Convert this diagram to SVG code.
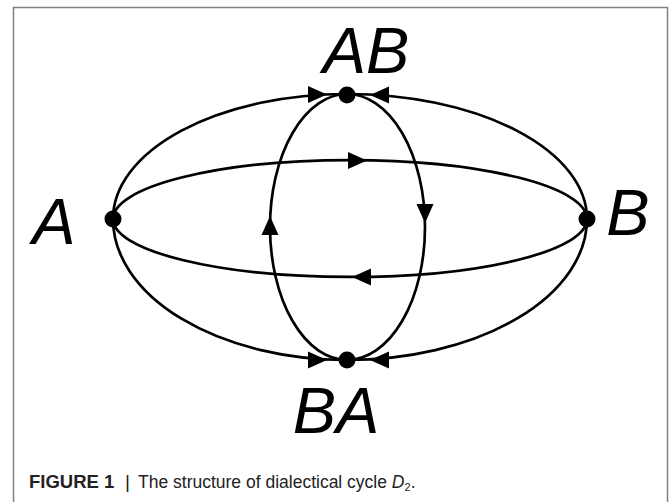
<svg xmlns="http://www.w3.org/2000/svg" xmlns:xlink="http://www.w3.org/1999/xlink" width="670" height="502" viewBox="0 0 670 502">
<style>
.edge{fill:none;stroke:#000;stroke-width:2.7}
.dot{fill:#000}
.lbl{font-family:"Liberation Sans",Arial,sans-serif;font-style:italic;font-size:65px;fill:#000;text-anchor:middle}
.cap{font-family:"Liberation Sans",Arial,sans-serif;font-size:17.5px;fill:#222}
.frame{fill:none;stroke:#808080;stroke-width:1.5}
</style>
<defs>
<polygon id="ah" points="0,0 -19,-8.5 -19,8.5" fill="#000"/>
</defs>
<rect width="670" height="502" fill="#fff"/>
<path class="frame" d="M13.5,503 V7.5 H667.5 V503"/>
<g id="connectors">
<path id="e-A-AB" class="edge" d="M113,219 A234,125 0 0 1 347,94"/>
<path id="e-B-AB" class="edge" d="M587,219 A240,125 0 0 0 347,94"/>
<path id="e-A-BA" class="edge" d="M113,219 A234,141 0 0 0 347,360"/>
<path id="e-B-BA" class="edge" d="M587,219 A240,141 0 0 1 347,360"/>
<path id="e-A-B" class="edge" d="M113,219 A237,59 0 0 1 587,219"/>
<path id="e-B-A" class="edge" d="M587,219 A237,58 0 0 1 113,219"/>
<path id="e-AB-BA" class="edge" d="M347,94 A78,133 0 0 1 347,360"/>
<path id="e-BA-AB" class="edge" d="M347,360 A77,133 0 0 1 347,94"/>
<use xlink:href="#ah" transform="translate(327,94.5)"/>
<use xlink:href="#ah" transform="translate(370,95) rotate(180)"/>
<use xlink:href="#ah" transform="translate(327,360)"/>
<use xlink:href="#ah" transform="translate(370,360) rotate(180)"/>
<use xlink:href="#ah" transform="translate(367,160.5)"/>
<use xlink:href="#ah" transform="translate(352,277) rotate(180)"/>
<use xlink:href="#ah" transform="translate(425,223) rotate(90)"/>
<use xlink:href="#ah" transform="translate(270,216) rotate(-90)"/>
</g>
<g id="node-A"><circle class="dot" cx="113" cy="219" r="8.5"/><text class="lbl" x="54" y="244">A</text></g>
<g id="node-B"><circle class="dot" cx="587" cy="219" r="8.5"/><text class="lbl" x="628" y="235">B</text></g>
<g id="node-AB"><circle class="dot" cx="347" cy="95" r="8.5"/><text class="lbl" x="366" y="73">AB</text></g>
<g id="node-BA"><circle class="dot" cx="347" cy="360" r="8.5"/><text class="lbl" x="336" y="433">BA</text></g>
<g id="caption">
<text class="cap" x="29" y="488"><tspan font-weight="bold" font-size="18.5">FIGURE 1</tspan><tspan x="125" font-size="19">|</tspan><tspan x="138">The structure of dialectical cycle </tspan><tspan font-style="italic">D</tspan><tspan font-size="11" dy="3">2</tspan><tspan dy="-3">.</tspan></text>
</g>
</svg>
